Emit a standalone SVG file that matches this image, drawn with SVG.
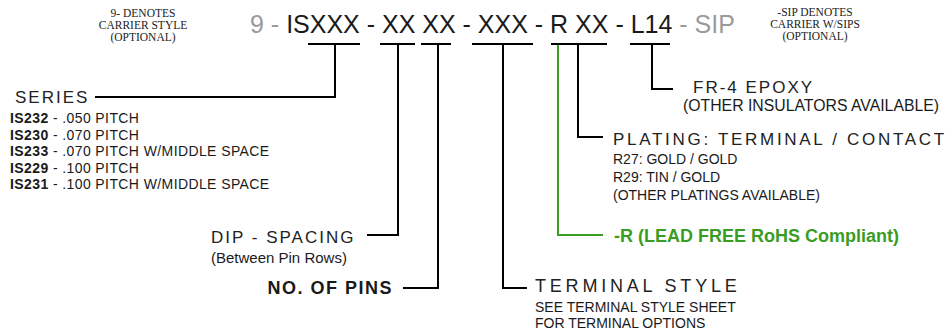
<svg xmlns="http://www.w3.org/2000/svg" width="950" height="333" viewBox="0 0 950 333">
<style>
text{font-family:"Liberation Sans",Arial,sans-serif;fill:#1a1a1a}
.serif{font-family:"Liberation Serif","Times New Roman",serif;font-size:11.5px;fill:#222;text-anchor:middle}
.head{font-size:17px;letter-spacing:2px;fill:#222}
.small{font-size:14px}
.list{font-size:14px;letter-spacing:0.4px}
.gray{fill:#9a9a9a}
.ln{fill:none;stroke:#000;stroke-width:2}
.green{fill:none;stroke:#3a9d23;stroke-width:2}
</style>
<rect width="950" height="333" fill="#fff"/>
<g id="title">
<text x="250" y="33" font-size="25"><tspan class="gray">9 - </tspan>ISXXX - XX XX - XXX - R XX - L14<tspan class="gray"> - SIP</tspan></text>
</g>
<g id="note-carrier">
<text class="serif" x="143" y="17">9- DENOTES</text>
<text class="serif" x="143" y="29">CARRIER STYLE</text>
<text class="serif" x="143" y="41">(OPTIONAL)</text>
</g>
<g id="note-sip">
<text class="serif" x="815" y="16">-SIP DENOTES</text>
<text class="serif" x="815" y="28">CARRIER W/SIPS</text>
<text class="serif" x="815" y="40">(OPTIONAL)</text>
</g>
<g id="connectors">
<path class="ln" d="M308 44H360M335 44V97H95"/>
<path class="ln" d="M380 44H415M398 44V235H367"/>
<path class="ln" d="M421 44H451M438 44V288H403"/>
<path class="ln" d="M472 44H533M503 44V288H527"/>
<path class="ln" d="M551 44H607M578 44V137H603"/>
<path class="green" d="M558 45V235H603"/>
<path class="ln" d="M630 44H670M652 44V89H673"/>
</g>
<g id="series">
<text class="head" x="15" y="103">SERIES</text>
<text class="list" x="10" y="123"><tspan font-weight="bold">IS232</tspan> - .050 PITCH</text>
<text class="list" x="10" y="139.5"><tspan font-weight="bold">IS230</tspan> - .070 PITCH</text>
<text class="list" x="10" y="156"><tspan font-weight="bold">IS233</tspan> - .070 PITCH W/MIDDLE SPACE</text>
<text class="list" x="10" y="172.5"><tspan font-weight="bold">IS229</tspan> - .100 PITCH</text>
<text class="list" x="10" y="189"><tspan font-weight="bold">IS231</tspan> - .100 PITCH W/MIDDLE SPACE</text>
</g>
<g id="dip-spacing">
<text class="head" x="211" y="243">DIP - SPACING</text>
<text x="211" y="263" font-size="15">(Between Pin Rows)</text>
</g>
<g id="no-of-pins">
<text x="393" y="294" font-size="18" font-weight="bold" letter-spacing="1.5" text-anchor="end">NO. OF PINS</text>
</g>
<g id="terminal-style">
<text class="head" x="535" y="292" style="font-size:18px;letter-spacing:3.8px">TERMINAL STYLE</text>
<text class="small" x="535" y="312">SEE TERMINAL STYLE SHEET</text>
<text class="small" x="535" y="328">FOR TERMINAL OPTIONS</text>
</g>
<g id="lead-free">
<text x="614" y="242" font-size="18" font-weight="bold" style="fill:#3a9d23">-R (LEAD FREE RoHS Compliant)</text>
</g>
<g id="plating">
<text class="head" x="613" y="145" style="letter-spacing:2.7px">PLATING: TERMINAL / CONTACT</text>
<text class="small" x="613" y="164">R27: GOLD / GOLD</text>
<text class="small" x="613" y="182">R29: TIN / GOLD</text>
<text class="small" x="613" y="200">(OTHER PLATINGS AVAILABLE)</text>
</g>
<g id="insulator">
<text class="head" x="693" y="93">FR-4 EPOXY</text>
<text x="683" y="111" font-size="15.8">(OTHER INSULATORS AVAILABLE)</text>
</g>
</svg>
